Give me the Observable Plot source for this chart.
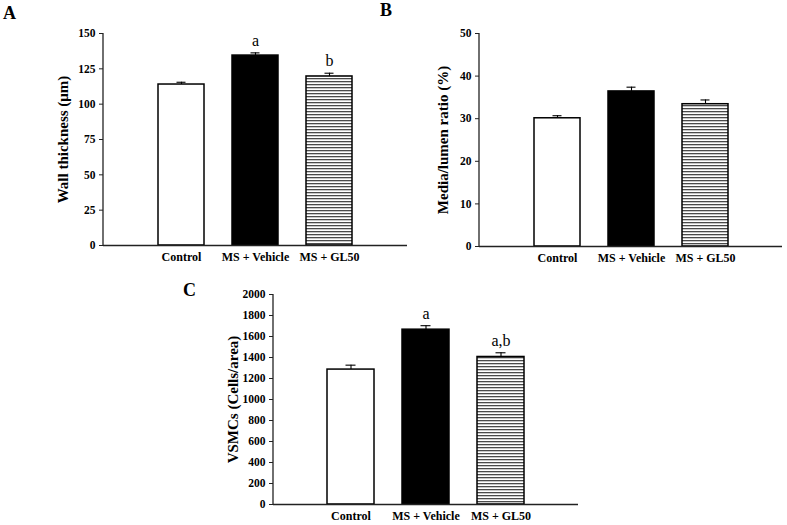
<!DOCTYPE html>
<html>
<head>
<meta charset="utf-8">
<script src="https://cdn.jsdelivr.net/npm/d3@7"></script>
<script src="https://cdn.jsdelivr.net/npm/@observablehq/plot@0.6"></script>
<style>
  html, body { margin: 0; padding: 0; background: #fff; }
  #wrap { position: relative; width: 787px; height: 525px; background: #fff; overflow: hidden; }
  .panel { position: absolute; }
  .letter { position: absolute; font-family: "Liberation Serif", "Times New Roman", serif; font-weight: bold; font-size: 18px; line-height: 1; color: #000; }
</style>
</head>
<body>
<svg width="0" height="0" style="position:absolute">
  <defs>
    <pattern id="hatch" patternUnits="userSpaceOnUse" width="6" height="3">
      <rect x="0" y="0" width="6" height="3" fill="#fff"></rect>
      <rect x="0" y="0" width="6" height="1.3" fill="#4a4a4a"></rect>
    </pattern>
  </defs>
</svg>
<div id="wrap">
  <div class="letter" style="left:3px;top:4px">A</div>
  <div class="letter" style="left:380px;top:1px">B</div>
  <div class="letter" style="left:183px;top:281px">C</div>
</div>
<script>
// ---- data ----
const categories = ["Control", "MS + Vehicle", "MS + GL50"];

const wallThickness = [113.9, 134.4, 119.6];
const wallThicknessSE = [1.6, 1.9, 2.3];
const wallLetters = ["", "a", "b"];
const ticksA = [0, 25, 50, 75, 100, 125, 150];

const mediaLumen = [30.1, 36.4, 33.4];
const mediaLumenSE = [0.6, 1.0, 1.0];
const mediaLetters = ["", "", ""];
const ticksB = [0, 10, 20, 30, 40, 50];

const vsmc = [1285, 1665, 1405];
const vsmcSE = [42, 38, 40];
const vsmcLetters = ["", "a", "a,b"];
const ticksC = [0, 200, 400, 600, 800, 1000, 1200, 1400, 1600, 1800, 2000];

// ---- styles ----
const barFill = {"Control": "#fff", "MS + Vehicle": "#000", "MS + GL50": "url(#hatch)"};

function makePanel(cfg) {
  const rows = categories.map((c, i) => ({cat: c, v: cfg.values[i], se: cfg.se[i], top: cfg.values[i] + cfg.se[i], letter: cfg.letters[i]}));
  const yMax = d3.max(cfg.ticks);
  const svgns = "http://www.w3.org/2000/svg";
  const yAxisLine = (index, scales, values, dims) => {
    const g = document.createElementNS(svgns, "line");
    g.setAttribute("x1", dims.marginLeft);
    g.setAttribute("x2", dims.marginLeft);
    g.setAttribute("y1", scales.y(0));
    g.setAttribute("y2", scales.y(yMax));
    g.setAttribute("stroke", "#222");
    g.setAttribute("stroke-width", 1.3);
    return g;
  };
  return Plot.plot({
    width: cfg.width,
    height: cfg.height,
    marginLeft: cfg.ml,
    marginRight: cfg.mr,
    marginTop: cfg.mt,
    marginBottom: cfg.mb,
    style: {fontFamily: "'Liberation Serif', 'Times New Roman', serif", fontSize: "11px", fontWeight: "bold", background: "transparent", color: "#000", overflow: "visible"},
    x: {type: "band", domain: categories, paddingInner: 0.38, paddingOuter: 0.72},
    y: {domain: [0, yMax]},
    marks: [
      Plot.axisY({ticks: cfg.ticks, tickFormat: d => String(d), tickSize: 4, tickPadding: 4, label: null, stroke: "#222", fontSize: 11.5}),
      Plot.axisX({tickSize: 0, tickPadding: 7, label: null, fontSize: 12}),
      Plot.ruleX(rows, {x: "cat", y1: "v", y2: "top", stroke: "#000", strokeWidth: 1.1}),
      Plot.tickY(rows, {x: "cat", y: "top", stroke: "#000", strokeWidth: 1.1, insetLeft: 18.5, insetRight: 18.5}),
      Plot.barY(rows, {x: "cat", y: "v", fill: d => barFill[d.cat], stroke: "#000", strokeWidth: 1.5}),
      Plot.ruleY([0], {stroke: "#222", strokeWidth: 1.3}),
      yAxisLine,
      Plot.text(rows, {x: "cat", y: "top", text: "letter", dy: -12, fontSize: 16, fontWeight: "normal", fill: "#000"}),
      Plot.text([cfg.title], {frameAnchor: "left", dx: cfg.titleDx, rotate: -90, textAnchor: "middle", lineAnchor: "middle", text: d => d, fontSize: 15, fontWeight: "bold", fill: "#000"})
    ]
  });
}

const wrap = document.getElementById("wrap");
function place(svg, left, top) {
  svg.classList.add("panel");
  svg.style.position = "absolute";
  svg.style.left = left + "px";
  svg.style.top = top + "px";
  wrap.appendChild(svg);
}

place(makePanel({values: wallThickness, se: wallThicknessSE, letters: wallLetters, ticks: ticksA,
  title: "Wall thickness (\u03bcm)", width: 410, height: 270, ml: 103, mr: 3, mt: 33, mb: 25, titleDx: -40}), 0, 0);

place(makePanel({values: mediaLumen, se: mediaLumenSE, letters: mediaLetters, ticks: ticksB,
  title: "Media/lumen ratio (%)", width: 407, height: 270, ml: 99, mr: 5, mt: 33, mb: 24, titleDx: -36}), 380, 0);

place(makePanel({values: vsmc, se: vsmcSE, letters: vsmcLetters, ticks: ticksC,
  title: "VSMCs (Cells/area)", width: 400, height: 255, ml: 93, mr: 2, mt: 24, mb: 21, titleDx: -40}), 180, 270);
</script>
</body>
</html>
